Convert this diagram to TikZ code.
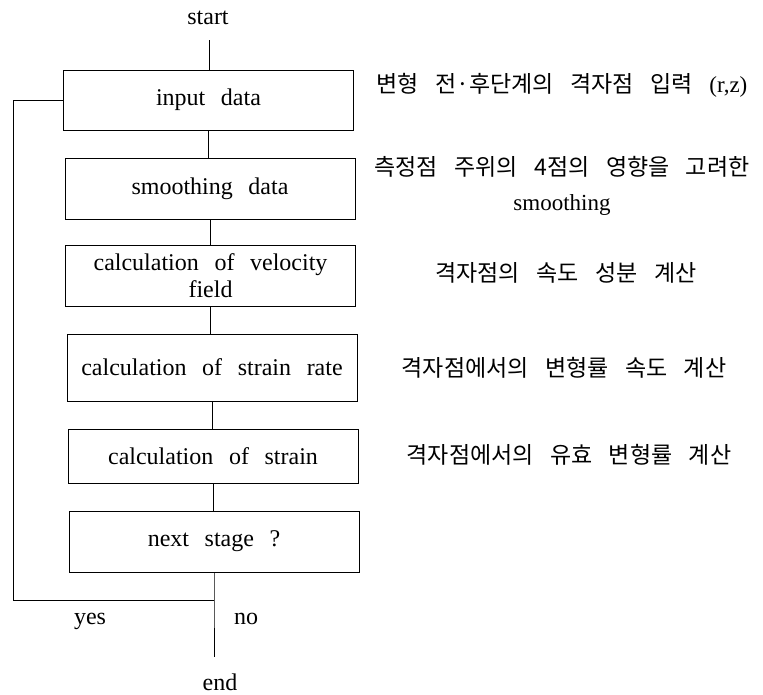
\documentclass[tikz,border=0pt]{standalone}
\usepackage{fontspec}
\setmainfont{Liberation Serif}[WordSpace=2.6]
\newfontfamily\kr{Noto Sans CJK KR}[WordSpace=3.2]
\begin{document}
\begin{tikzpicture}[x=1pt,y=-1pt,
  every node/.style={font=\fontsize{24}{27}\selectfont, inner sep=0pt},
  stepbox/.style={draw, line width=0.9pt, minimum width=290pt, align=center},
  note/.style={font=\fontsize{23}{35}\selectfont\kr, align=center},
  lbl/.style={anchor=base},
  lnk/.style={line width=0.9pt}]
\useasboundingbox (0,0) rectangle (763,694);
\node[lbl] (start) at (208,24) {start};
\coordinate (s) at (209,40);
\node[stepbox, minimum height=60pt] (b1) at (208.5,100) {input data};
\node[stepbox, minimum height=61pt] (b2) at (210,188.5) {smoothing data};
\node[stepbox, minimum height=61pt] (b3) at (210.5,275.5) {calculation of velocity\\field};
\node[stepbox, minimum height=67pt] (b4) at (212,367.5) {calculation of strain rate};
\node[stepbox, minimum height=54pt] (b5) at (213,456) {calculation of strain};
\node[stepbox, minimum height=61pt] (b6) at (214,541.5) {next stage ?};
\coordinate (j) at (b6.south |- 0,600);
\coordinate (e) at (b6.south |- 0,657);
\coordinate (lc) at (13,600);
\node[lbl] (yes) at (90,624) {yes};
\node[lbl] (no) at (246,624) {no};
\node[lbl] (end) at (220,690) {end};
\draw[lnk] (s) -- (s |- b1.north);
\draw[lnk] (b1.south) -- (b1.south |- b2.north);
\draw[lnk] (b2.south) -- (b2.south |- b3.north);
\draw[lnk] (b3.south) -- (b3.south |- b4.north);
\draw[lnk] (b4.south) -- (b4.south |- b5.north);
\draw[lnk] (b5.south) -- (b5.south |- b6.north);
\draw[lnk] (b6.south) -- (j) -- (e);
\draw[lnk] (j) -- (lc) |- (b1.west);
\node[note] (n1) at (562,85) {변형 전·후단계의 격자점 입력 {\rmfamily (r,z)}};
\node[note] (n2) at (562,186) {측정점 주위의 4점의 영향을 고려한\\{\rmfamily smoothing}};
\node[note] (n3) at (566,273) {격자점의 속도 성분 계산};
\node[note] (n4) at (564,368) {격자점에서의 변형률 속도 계산};
\node[note] (n5) at (569,455) {격자점에서의 유효 변형률 계산};
\end{tikzpicture}
\end{document}
